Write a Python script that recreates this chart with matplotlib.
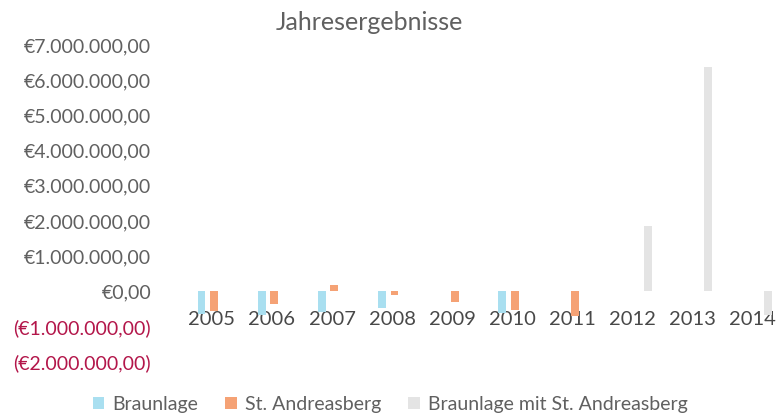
import matplotlib
matplotlib.use("Agg")
import matplotlib.pyplot as plt
import numpy as np
from matplotlib.patches import Patch

plt.rcParams["font.family"] = ["Lato", "DejaVu Sans"]

YEARS = ["2005", "2006", "2007", "2008", "2009", "2010", "2011", "2012", "2013", "2014"]
SERIES = ["Braunlage", "St. Andreasberg", "Braunlage mit St. Andreasberg"]
# yearly results in euros (nan = no bar)
BRAUNLAGE = [-650_000, -670_000, -570_000, -480_000, np.nan, -600_000, np.nan, np.nan, np.nan, np.nan]
ST_ANDREASBERG = [-560_000, -360_000, 170_000, -100_000, -300_000, -520_000, -700_000, np.nan, np.nan, np.nan]
COMBINED = [np.nan, np.nan, np.nan, np.nan, np.nan, np.nan, np.nan, 1_850_000, 6_360_000, -680_000]
Y_TICKS = [-2_000_000, -1_000_000, 0, 1_000_000, 2_000_000, 3_000_000,
           4_000_000, 5_000_000, 6_000_000, 7_000_000]

COLORS = ["#a9dff0", "#f5a275", "#e4e4e4"]
TEXT_GRAY = "#606060"
NEG_RED = "#b3164a"


def euro(v: float) -> str:
    s = f"{abs(v):,.2f}".replace(",", "X").replace(".", ",").replace("X", ".")
    return f"(€{s})" if v < 0 else f"€{s}"


fig = plt.figure(figsize=(7.83, 4.16), dpi=100)
ax = fig.add_axes([0.232, 0.13, 0.768, 0.762])

x = np.arange(len(YEARS))
width = 0.13
offsets = [-0.17, 0.04, 0.25]
for vals, off, color, name in zip([BRAUNLAGE, ST_ANDREASBERG, COMBINED], offsets, COLORS, SERIES):
    ax.bar(x + off, vals, width=width, color=color, label=name, zorder=2)

ax.set_xlim(-0.5, len(YEARS) - 0.5)
ax.set_ylim(-2_000_000, 7_000_000)
ax.set_yticks(Y_TICKS)
ax.set_yticklabels([euro(v) for v in Y_TICKS], fontsize=14)
for lbl, v in zip(ax.get_yticklabels(), Y_TICKS):
    lbl.set_color(NEG_RED if v < 0 else TEXT_GRAY)
ax.tick_params(axis="y", length=0, pad=22)

ax.spines["bottom"].set_position(("data", 0))
for sp in ax.spines.values():
    sp.set_visible(False)
ax.set_xticks(x)
ax.set_xticklabels(YEARS, fontsize=14.5, color="#484848")
ax.tick_params(axis="x", length=0, pad=14)

fig.text(0.472, 0.945, "Jahresergebnisse", ha="center", va="center",
         fontsize=18, color=TEXT_GRAY)

handles = [Patch(facecolor=c, label=n) for c, n in zip(COLORS, SERIES)]
fig.legend(handles=handles, loc="center", bbox_to_anchor=(0.498, 0.028), ncol=3,
           frameon=False, fontsize=14, labelcolor=TEXT_GRAY,
           handlelength=0.6, handleheight=0.6, handletextpad=0.4, columnspacing=1.4)

fig.savefig("out.png", dpi=100)
